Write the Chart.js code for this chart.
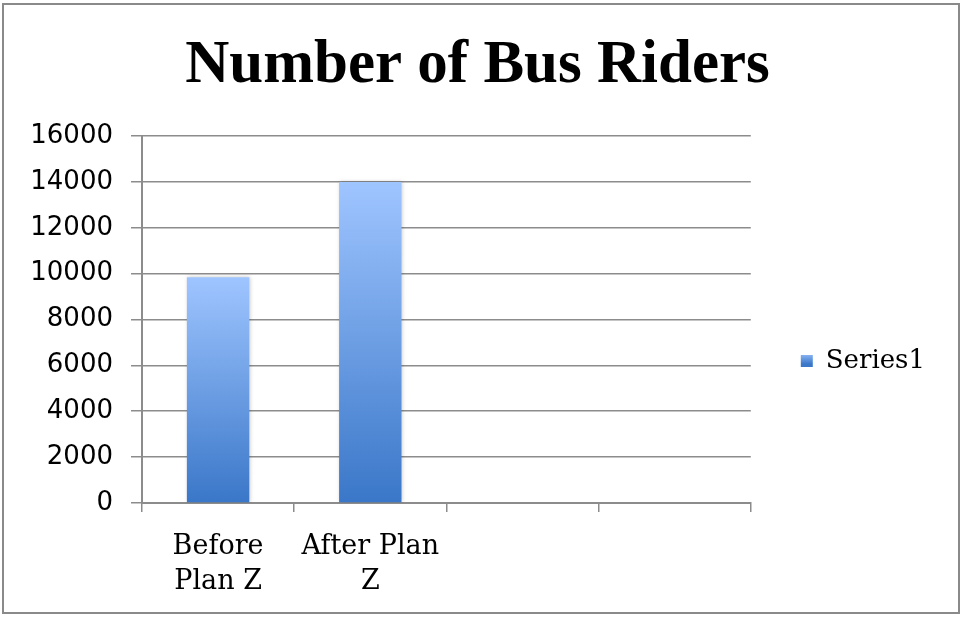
<!DOCTYPE html>
<html>
<head>
<meta charset="utf-8">
<script src="https://cdn.jsdelivr.net/npm/chart.js@4"></script>
<style>
  html, body { margin: 0; padding: 0; background: #ffffff; }
  #wrap { width: 963px; height: 618px; position: relative; }
</style>
</head>
<body>
<div id="wrap"><canvas id="c" width="963" height="618"></canvas></div>
<script>
// Riders before and after Plan Z (two empty slots keep the wide category axis)
const categories = [["Before", "Plan Z"], ["After Plan", "Z"], "", ""];
const riders = [9850, 14000, null, null];
const seriesName = "Series1";
const yTicks = [0, 2000, 4000, 6000, 8000, 10000, 12000, 14000, 16000];

const LIGHT = "#9fc5ff";
const DARK = "#3a77c8";

// Vertical gradient spanning each bar's own height
function barFill(ctx) {
  const chart = ctx.chart;
  const y = chart.scales && chart.scales.y;
  if (!chart.chartArea || !y || ctx.type !== "data" || ctx.raw == null) return DARK;
  const top = y.getPixelForValue(ctx.raw);
  const bottom = y.getPixelForValue(0);
  const g = chart.ctx.createLinearGradient(0, top, 0, bottom);
  g.addColorStop(0, LIGHT);
  g.addColorStop(1, DARK);
  return g;
}

// Thin grey frame round the whole chart
const framePlugin = {
  id: "frame",
  beforeDraw(chart) {
    const c = chart.ctx;
    c.save();
    c.fillStyle = "#ffffff";
    c.fillRect(0, 0, chart.width, chart.height);
    c.strokeStyle = "#8a8a8a";
    c.lineWidth = 2;
    c.strokeRect(3, 4, chart.width - 7, chart.height - 9);
    c.restore();
  }
};

// Soft shadow behind the bars
const barShadow = {
  id: "barShadow",
  beforeDatasetsDraw(chart) {
    const c = chart.ctx;
    c.save();
    c.shadowColor = "rgba(0,0,0,0.22)";
    c.shadowBlur = 4;
    c.shadowOffsetX = 1;
    c.shadowOffsetY = 0;
  },
  afterDatasetsDraw(chart) {
    chart.ctx.restore();
  }
};

const gridColor = "#8c8c8c";

new Chart(document.getElementById("c"), {
  type: "bar",
  data: {
    labels: categories,
    datasets: [{
      label: seriesName,
      data: riders,
      backgroundColor: barFill,
      borderWidth: 0,
      barPercentage: 0.41,
      categoryPercentage: 1.0
    }]
  },
  options: {
    responsive: false,
    animation: false,
    devicePixelRatio: 1,
    layout: { padding: { left: 20, right: 28, top: 0, bottom: 1 } },
    plugins: {
      title: {
        display: true,
        text: "Number of Bus Riders",
        color: "#000000",
        font: { family: "Liberation Serif", size: 61, weight: "bold" },
        padding: { top: 30, bottom: 33 }
      },
      legend: {
        position: "right",
        title: {
          display: true,
          text: " ",
          font: { size: 10, lineHeight: 1.2 },
          padding: { top: 93, bottom: 0 }
        },
        labels: {
          color: "#000000",
          font: { family: "DejaVu Serif", size: 26 },
          boxWidth: 12,
          boxHeight: 12,
          padding: 50,
          generateLabels(chart) {
            const c = document.createElement("canvas").getContext("2d");
            const g = c.createLinearGradient(0, 352, 0, 364);
            g.addColorStop(0, LIGHT);
            g.addColorStop(1, DARK);
            return [{
              text: seriesName,
              fillStyle: g,
              strokeStyle: "#6f9fdc",
              lineWidth: 0,
              datasetIndex: 0,
              fontColor: "#000000"
            }];
          }
        }
      },
      tooltip: { enabled: false }
    },
    scales: {
      x: {
        offset: true,
        grid: {
          offset: true,
          drawOnChartArea: false,
          drawTicks: true,
          tickLength: 9,
          color: gridColor,
          lineWidth: 1.5
        },
        border: { color: gridColor, width: 2 },
        ticks: {
          color: "#000000",
          maxRotation: 0,
          autoSkip: false,
          padding: 18,
          font: { family: "DejaVu Serif", size: 27, lineHeight: 1.28 }
        }
      },
      y: {
        min: 0,
        max: 16000,
        afterBuildTicks(scale) { scale.ticks = yTicks.map(v => ({ value: v })); },
        afterFit(scale) { scale.width = 122; },
        grid: {
          color: gridColor,
          lineWidth: 1.5,
          tickLength: 11
        },
        border: { color: gridColor, width: 2 },
        ticks: {
          color: "#000000",
          padding: 18,
          font: { family: "DejaVu Sans", size: 26 },
          callback: (v) => String(v)
        }
      }
    }
  },
  plugins: [framePlugin, barShadow]
});
</script>
</body>
</html>
